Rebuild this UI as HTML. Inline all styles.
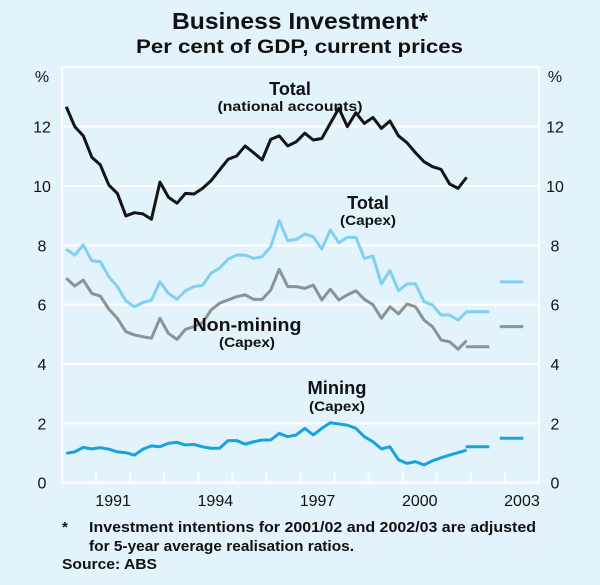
<!DOCTYPE html>
<html><head><meta charset="utf-8"><style>
html,body{margin:0;padding:0;background:#e2f3fc;}
svg{display:block;font-family:"Liberation Sans",Arial,sans-serif;}
</style></head><body>
<svg id="chart" width="600" height="585">
<rect x="0" y="0" width="600" height="585" fill="#e2f3fc"/>
<text x="172" y="29" font-size="23" font-weight="bold" fill="#111" textLength="256" lengthAdjust="spacingAndGlyphs">Business Investment*</text>
<text x="136" y="53" font-size="19" font-weight="bold" fill="#111" textLength="327" lengthAdjust="spacingAndGlyphs">Per cent of GDP, current prices</text>
<g id="grid"></g><g id="axes"></g><g id="series"></g>
<g fill="#111" text-anchor="middle" font-weight="bold">
<text x="290" y="95" font-size="18">Total</text>
<text x="290" y="111" font-size="14" textLength="145" lengthAdjust="spacingAndGlyphs">(national accounts)</text>
<text x="368" y="209" font-size="18">Total</text>
<text x="368" y="225" font-size="14" textLength="56" lengthAdjust="spacingAndGlyphs">(Capex)</text>
<text x="247" y="331" font-size="18" textLength="109" lengthAdjust="spacingAndGlyphs">Non-mining</text>
<text x="247" y="347" font-size="14" textLength="56" lengthAdjust="spacingAndGlyphs">(Capex)</text>
<text x="337" y="394" font-size="18" textLength="59" lengthAdjust="spacingAndGlyphs">Mining</text>
<text x="337" y="411" font-size="14" textLength="56" lengthAdjust="spacingAndGlyphs">(Capex)</text>
</g>
<g font-size="15" font-weight="bold" fill="#111">
<text x="62" y="532">*</text>
<text x="89" y="532" textLength="447" lengthAdjust="spacingAndGlyphs">Investment intentions for 2001/02 and 2002/03 are adjusted</text>
<text x="89" y="551" textLength="265" lengthAdjust="spacingAndGlyphs">for 5-year average realisation ratios.</text>
<text x="62" y="569" textLength="95" lengthAdjust="spacingAndGlyphs">Source: ABS</text>
</g>
</svg>
<script>
const yTicks=[0,2,4,6,8,10,12];
const xLabels=["1991","1994","1997","2000","2003"];
const xLabelIdx=[1,4,7,10,13];
const totalNA=[12.67,12.0,11.69,10.97,10.71,10.03,9.75,8.99,9.10,9.06,8.88,10.13,9.62,9.42,9.75,9.73,9.92,10.18,10.54,10.9,11.01,11.35,11.12,10.88,11.57,11.69,11.35,11.49,11.78,11.55,11.6,12.11,12.62,12.0,12.47,12.11,12.31,11.94,12.19,11.69,11.46,11.12,10.82,10.65,10.56,10.07,9.92,10.29];
const totalCapex=[7.87,7.67,8.01,7.48,7.45,6.94,6.61,6.13,5.93,6.07,6.16,6.77,6.38,6.18,6.47,6.61,6.65,7.06,7.23,7.53,7.67,7.67,7.56,7.62,7.95,8.83,8.16,8.2,8.38,8.29,7.87,8.52,8.09,8.27,8.27,7.56,7.64,6.70,7.15,6.47,6.70,6.70,6.1,5.99,5.65,5.65,5.48,5.76];
const nonMining=[6.89,6.63,6.83,6.38,6.29,5.85,5.54,5.09,4.98,4.92,4.87,5.54,5.03,4.83,5.17,5.26,5.39,5.82,6.05,6.16,6.27,6.33,6.18,6.18,6.49,7.19,6.61,6.61,6.55,6.66,6.16,6.52,6.16,6.33,6.47,6.18,6.0,5.54,5.93,5.69,6.02,5.93,5.48,5.26,4.81,4.75,4.50,4.79];
const mining=[0.99,1.04,1.19,1.14,1.18,1.13,1.04,1.01,0.93,1.13,1.24,1.21,1.33,1.36,1.27,1.29,1.21,1.16,1.16,1.42,1.42,1.30,1.38,1.44,1.44,1.66,1.55,1.61,1.83,1.61,1.83,2.02,1.98,1.94,1.83,1.55,1.38,1.14,1.21,0.77,0.65,0.71,0.60,0.74,0.84,0.93,1.01,1.10];
const intentYears=[11.85,12.85];
const totalCapexIntent=[5.76,6.77];
const nonMiningIntent=[4.58,5.26];
const miningIntent=[1.21,1.50];

const NS="http://www.w3.org/2000/svg";
const L=62,R=539,T=67.3,B=482.7,YMAX=14,YEARS=14;
const xs=i=>L+(i/YEARS)*(R-L);
const ys=v=>B-(v/YMAX)*(B-T);
const qx=k=>xs(0.125+k*0.25);
function el(tag,attrs,parent){const e=document.createElementNS(NS,tag);for(const k in attrs)e.setAttribute(k,attrs[k]);parent.appendChild(e);return e;}
const grid=document.getElementById('grid'),axes=document.getElementById('axes'),ser=document.getElementById('series');
const frame=el('rect',{x:L,y:T,width:R-L,height:B-T,fill:'none',stroke:'#fff','stroke-width':2},grid);


yTicks.forEach(v=>{
  const g=el('line',{x1:L,x2:R,y1:ys(v),y2:ys(v),stroke:'#fff','stroke-width':2},grid);
  
  
  const a=el('text',{x:42,y:ys(v)+6,'text-anchor':'middle','font-size':16,fill:'#111'},axes);a.textContent=v;
  
  
  const b=el('text',{x:555,y:ys(v)+6,'text-anchor':'middle','font-size':16,fill:'#111'},axes);b.textContent=v;
  
  
});
const p1=el('text',{x:42,y:82,'text-anchor':'middle','font-size':16,fill:'#111'},axes);p1.textContent='%';


const p2=el('text',{x:555,y:82,'text-anchor':'middle','font-size':16,fill:'#111'},axes);p2.textContent='%';


for(let i=1;i<YEARS;i++){
  const t=el('line',{x1:xs(i),x2:xs(i),y1:B,y2:B-11,stroke:'#fff','stroke-width':2},axes);
  
  
}
xLabels.forEach((s,j)=>{
  const t=el('text',{x:xs(xLabelIdx[j]+0.5),y:506,'text-anchor':'middle','font-size':16,fill:'#111'},axes);t.textContent=s;
  
  
});
function line(data,color,name){
  const p=el('polyline',{points:data.map((v,k)=>qx(k)+','+ys(v)).join(' '),fill:'none',stroke:color,'stroke-width':3,'stroke-linejoin':'round'},ser);
  
  
}
function intent(vals,color,name){
  vals.forEach((v,j)=>{
    const s=el('line',{x1:xs(intentYears[j]),x2:xs(intentYears[j])+23.5,y1:ys(v),y2:ys(v),stroke:color,'stroke-width':3},ser);
    
    
  });
}
line(totalCapex,'#80d0f4','series-total-capex');
line(nonMining,'#8d9297','series-non-mining');
line(mining,'#17a2e0','series-mining');
line(totalNA,'#141414','series-total-national-accounts');
intent(totalCapexIntent,'#80d0f4','intention-total-capex');
intent(nonMiningIntent,'#8d9297','intention-non-mining');
intent(miningIntent,'#17a2e0','intention-mining');
</script>
</body></html>
